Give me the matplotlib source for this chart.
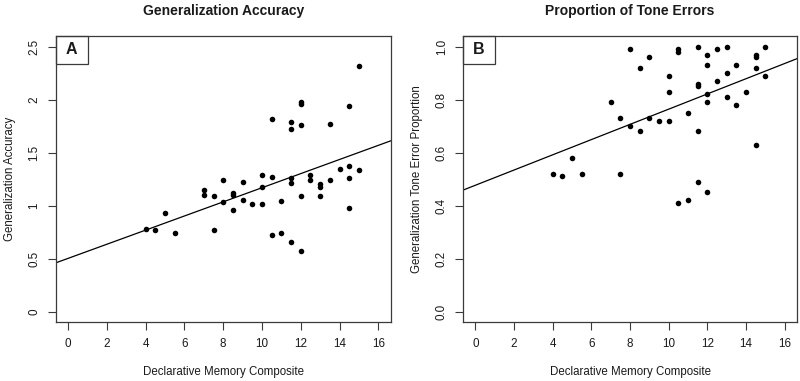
import matplotlib
matplotlib.use("Agg")
import matplotlib.pyplot as plt
from matplotlib.patches import Rectangle
import numpy as np

plt.rcParams['font.family'] = ['Liberation Sans', 'DejaVu Sans']

# Panel A data
memA = [4, 4.5, 5, 5.5, 7, 7, 7.5, 7.5, 8, 8, 8.5, 8.5, 8.5, 9, 9, 9.5,
        10, 10, 10, 10.5, 10.5, 10.5, 11, 11, 11.5, 11.5, 11.5, 11.5, 11.5,
        12, 12, 12, 12, 12, 12.5, 12.5, 13, 13, 13, 13.5, 13.5, 14,
        14.5, 14.5, 14.5, 14.5, 15, 15]
accA = [0.78, 0.77, 0.93, 0.74, 1.15, 1.10, 1.09, 0.77, 1.24, 1.03, 1.12, 1.10, 0.96, 1.22, 1.05, 1.02,
        1.29, 1.18, 1.02, 1.82, 1.27, 0.72, 1.04, 0.74, 1.79, 1.72, 1.26, 1.21, 0.66,
        1.98, 1.96, 1.76, 1.09, 0.57, 1.29, 1.24, 1.20, 1.18, 1.09, 1.77, 1.24, 1.35,
        1.94, 1.37, 1.26, 0.98, 2.32, 1.34]
fitA = (0.503, 0.0666)  # intercept, slope

# Panel B data
memB = [4, 4.5, 5, 5.5, 7, 7.5, 7.5, 8, 8, 8.5, 8.5, 9, 9, 9.5,
        10, 10, 10, 10.5, 10.5, 10.5, 11, 11, 11.5, 11.5, 11.5, 11.5, 11.5,
        12, 12, 12, 12, 12, 12.5, 12.5, 13, 13, 13, 13.5, 13.5, 14,
        14.5, 14.5, 14.5, 14.5, 15, 15]
errB = [0.52, 0.51, 0.58, 0.52, 0.79, 0.73, 0.52, 0.99, 0.70, 0.92, 0.68, 0.96, 0.73, 0.72,
        0.89, 0.83, 0.72, 0.99, 0.98, 0.41, 0.75, 0.42, 1.00, 0.86, 0.85, 0.68, 0.49,
        0.97, 0.93, 0.82, 0.79, 0.45, 0.99, 0.87, 1.00, 0.90, 0.81, 0.93, 0.78, 0.83,
        0.97, 0.96, 0.92, 0.63, 1.00, 0.89]
fitB = (0.477, 0.0287)

xticks = [0, 2, 4, 6, 8, 10, 12, 14, 16]
yticksA = [0, 0.5, 1, 1.5, 2, 2.5]
yticklabelsA = ['0', '0.5', '1', '1.5', '2', '2.5']
yticksB = [0.0, 0.2, 0.4, 0.6, 0.8, 1.0]
yticklabelsB = ['0.0', '0.2', '0.4', '0.6', '0.8', '1.0']

W, H = 800, 381
fig = plt.figure(figsize=(W / 100, H / 100), dpi=100)
TXT = '#1a1a1a'
SP = '#3a3a3a'

def make_ax(left_px, right_px, x, y, fit, yticks, yticklabels, ylim, title, ylabel, letter):
    top_px, bot_px = 36, 322.3
    ax = fig.add_axes([left_px / W, 1 - bot_px / H, (right_px - left_px) / W, (bot_px - top_px) / H])
    ax.plot(x, y, 'o', color='black', markersize=4.0, markeredgewidth=0)
    xs = np.array([-1, 17])
    ax.plot(xs, fit[0] + fit[1] * xs, color='black', lw=0.9)
    ax.set_xlim(-0.64, 16.64)
    ax.set_ylim(*ylim)
    ax.set_xticks(xticks)
    ax.set_xticklabels([str(t) for t in xticks], fontsize=8.4, color=TXT)
    ax.set_yticks(yticks)
    ax.set_yticklabels(yticklabels, fontsize=8.4, color=TXT, rotation=90, va='center')
    ax.tick_params(direction='out', length=6, width=0.8, color=SP, pad=5)
    for s in ax.spines.values():
        s.set_color(SP)
        s.set_linewidth(0.9)
    ax.set_xlabel('Declarative Memory Composite', fontsize=8.3, color=TXT, labelpad=12)
    ax.set_ylabel(ylabel, fontsize=8.3, color=TXT, labelpad=9)
    ax.set_title(title, fontsize=10, fontweight='bold', color=TXT, pad=15)
    bw = 32 / (right_px - left_px)
    bh = 27.7 / (bot_px - top_px)
    ax.add_patch(Rectangle((0, 1 - bh), bw, bh, transform=ax.transAxes, fill=False,
                           edgecolor=SP, lw=0.9, clip_on=False))
    ax.text(bw / 2, 1 - bh / 2, letter, transform=ax.transAxes, ha='center', va='center',
            fontsize=11.5, fontweight='bold', color=TXT)
    return ax

make_ax(55.7, 390.7, memA, accA, fitA, yticksA, yticklabelsA, (-0.1, 2.6),
        'Generalization Accuracy', 'Generalization Accuracy', 'A')
make_ax(463, 797, memB, errB, fitB, yticksB, yticklabelsB, (-0.04, 1.04),
        'Proportion of Tone Errors', 'Generalization Tone Error Proportion', 'B')

fig.savefig('out.png', dpi=100)
